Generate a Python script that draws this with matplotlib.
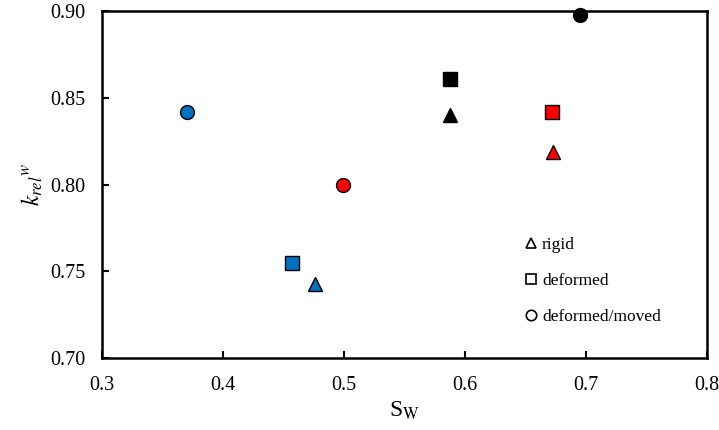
import numpy as np
import matplotlib.pyplot as plt
from matplotlib.lines import Line2D

plt.rcParams['font.family'] = ['Liberation Serif', 'DejaVu Serif']
plt.rcParams['mathtext.fontset'] = 'stix'

# data: (Sw, krel_w) per case
blue_sw = [0.370, 0.457, 0.476]
blue_k = [0.842, 0.755, 0.743]
red_sw = [0.499, 0.672, 0.673]
red_k = [0.800, 0.842, 0.819]
black_sw = [0.695, 0.588, 0.588]
black_k = [0.898, 0.861, 0.840]
# marker per entry: circle = deformed/moved, square = deformed, triangle = rigid
kinds = ['o', 's', '^']

colours = {'blue': '#0070C0', 'red': '#FF0000', 'black': '#000000'}
sizes = {'o': 10, 's': 9.5, '^': 10}

fig = plt.figure(figsize=(7.19, 4.30), dpi=100)
ax = fig.add_axes([0.142, 0.167, 0.841, 0.807])

for name, xs, ys in [('blue', blue_sw, blue_k), ('red', red_sw, red_k),
                     ('black', black_sw, black_k)]:
    for x, y, m in zip(xs, ys, kinds):
        ax.plot(x, y, marker=m, ls='none', ms=sizes[m],
                markerfacecolor=colours[name], markeredgecolor='black',
                markeredgewidth=1.0, clip_on=False, zorder=3)

ax.set_xlim(0.3, 0.8)
ax.set_ylim(0.70, 0.90)
ax.set_xticks(np.arange(0.3, 0.81, 0.1))
ax.set_yticks(np.arange(0.70, 0.901, 0.05))
ax.set_xticklabels(['%.1f' % v for v in np.arange(0.3, 0.81, 0.1)])
ax.set_yticklabels(['%.2f' % v for v in np.arange(0.70, 0.901, 0.05)])
ax.tick_params(direction='in', length=5, width=1.5, labelsize=14.5)
ax.tick_params(axis='x', pad=13)
ax.tick_params(axis='y', pad=12)
for sp in ax.spines.values():
    sp.set_linewidth(1.8)

ax.set_xlabel(r'S$_\mathrm{W}$', fontsize=17, labelpad=3)
ax.set_ylabel(r'$k_{rel}{}^{w}$', fontsize=17, labelpad=4)

handles = [Line2D([], [], marker='^', ls='none', ms=7.5, mfc='white', mec='black', mew=1.2),
           Line2D([], [], marker='s', ls='none', ms=7.5, mfc='white', mec='black', mew=1.2),
           Line2D([], [], marker='o', ls='none', ms=7.5, mfc='white', mec='black', mew=1.2)]
ax.legend(handles, ['rigid', 'deformed', 'deformed/moved'], frameon=False,
          loc='upper left', bbox_to_anchor=(0.69, 0.37), fontsize=12.5,
          handlelength=0.6, handletextpad=0.3, labelspacing=1.14,
          borderaxespad=0)

fig.savefig('out.png', dpi=100)
